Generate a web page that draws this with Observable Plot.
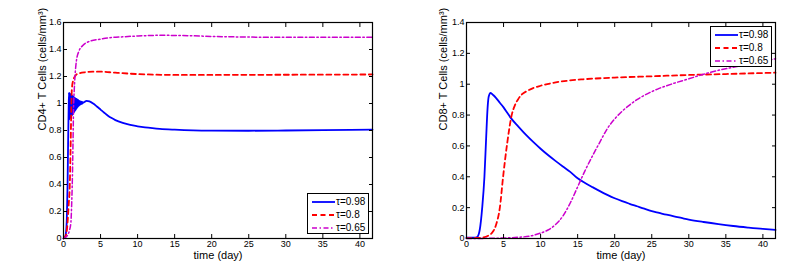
<!DOCTYPE html>
<html>
<head>
<meta charset="utf-8">
<script src="https://cdn.jsdelivr.net/npm/d3@7"></script>
<script src="https://cdn.jsdelivr.net/npm/@observablehq/plot@0.6"></script>
<style>
  body { margin: 0; background: #fff; font-family: Arial, "Liberation Sans", Helvetica, sans-serif; }
  #wrap { position: relative; width: 802px; height: 274px; overflow: hidden; }
  .panel { position: absolute; top: 0; }
  .legend { position: absolute; box-sizing: border-box; background: #fff; border: 1.2px solid #000; }
  .legend .row { position: absolute; left: 4px; height: 12px; display: flex; align-items: center; }
  .legend .row span { font-size: 10px; margin-left: 1px; color: #000; line-height: 12px; }
</style>
</head>
<body>
<div id="wrap"></div>
<script>
// ---------- data ----------
const xTicks = [0, 5, 10, 15, 20, 25, 30, 35, 40];
const cd4Ticks = [0, 0.2, 0.4, 0.6, 0.8, 1, 1.2, 1.4, 1.6];
const cd8Ticks = [0, 0.2, 0.4, 0.6, 0.8, 1, 1.2, 1.4];
const seriesNames = ["τ=0.98", "τ=0.8", "τ=0.65"];
const seriesColors = ["#0000ff", "#ff0000", "#cc00cc"];
const seriesDash = [null, "5,3.5", "5,2.5,1.5,2.5"];
const seriesWidth = [1.8, 1.8, 1.5];
const xTitle = "time (day)";
const cd4Title = "CD4+ T Cells (cells/mm³)";
const cd8Title = "CD8+ T Cells (cells/mm³)";

// CD4+ panel, [time, value]
const cd4_098 = [
  [0, 0], [0.2, 0.01], [0.35, 0.05], [0.45, 0.15], [0.55, 0.4], [0.62, 0.7], [0.7, 0.98],
  [0.75, 1.08], [0.78, 0.88], [0.81, 1.078], [0.84, 0.885], [0.87, 1.075], [0.9, 0.89],
  [0.93, 1.072], [0.96, 0.895], [0.99, 1.069], [1.02, 0.9], [1.05, 1.066], [1.08, 0.905],
  [1.11, 1.063], [1.14, 0.91], [1.17, 1.06], [1.2, 0.915], [1.23, 1.057], [1.26, 0.92],
  [1.29, 1.054], [1.32, 0.925], [1.35, 1.051], [1.38, 0.93], [1.41, 1.048], [1.44, 0.935],
  [1.47, 1.045], [1.5, 0.94], [1.53, 1.042], [1.56, 0.945], [1.59, 1.04], [1.62, 0.95],
  [1.65, 1.037], [1.68, 0.955], [1.71, 1.035], [1.74, 0.96], [1.77, 1.032], [1.8, 0.965],
  [1.83, 1.03], [1.86, 0.97], [1.89, 1.028], [1.92, 0.974], [1.95, 1.026], [1.98, 0.978],
  [2.01, 1.024], [2.04, 0.982], [2.07, 1.022], [2.1, 0.985], [2.14, 1.02], [2.18, 0.988],
  [2.22, 1.018], [2.26, 0.991], [2.3, 1.016], [2.35, 0.994], [2.4, 1.014], [2.45, 0.997],
  [2.5, 1.012], [2.56, 1.0], [2.62, 1.01], [2.7, 1.006], [2.85, 1.012], [3.1, 1.02],
  [3.5, 1.016], [4, 1.0], [4.5, 0.978], [5, 0.955], [5.5, 0.932], [6, 0.91], [6.5, 0.892],
  [7, 0.877], [8, 0.856], [9, 0.841], [10, 0.831], [11, 0.823], [12, 0.817], [13, 0.812],
  [15, 0.806], [17.5, 0.801], [20, 0.799], [25, 0.798], [30, 0.8], [35, 0.803], [41.7, 0.807]
];
const cd4_08 = [
  [0, 0], [0.3, 0.02], [0.45, 0.06], [0.55, 0.12], [0.7, 0.25], [0.85, 0.4], [0.95, 0.65],
  [1.05, 0.95], [1.12, 1.1], [1.3, 1.17], [1.6, 1.205], [2.0, 1.222], [3, 1.232],
  [4, 1.236], [5, 1.236], [7, 1.228], [10, 1.218], [15, 1.212], [20, 1.212], [30, 1.213],
  [41.7, 1.215]
];
const cd4_065 = [
  [0, 0], [0.3, 0.01], [0.6, 0.03], [0.8, 0.06], [1.0, 0.12], [1.1, 0.25], [1.2, 0.45],
  [1.28, 0.7], [1.35, 0.95], [1.45, 1.1], [1.55, 1.2], [1.75, 1.32], [2.1, 1.39],
  [2.6, 1.43], [3.5, 1.46], [5, 1.477], [6, 1.486], [8, 1.494], [10, 1.5], [13, 1.505],
  [17, 1.502], [20, 1.497], [25, 1.492], [30, 1.49], [35, 1.49], [41.7, 1.49]
];

// CD8+ panel, [time, value]
const cd8_098 = [
  [0, 0.005], [1, 0.005], [1.44, 0.01], [1.8, 0.06], [2.12, 0.2], [2.42, 0.4], [2.65, 0.65],
  [2.85, 0.85], [3.0, 0.92], [3.25, 0.943], [3.6, 0.93], [4, 0.91], [4.5, 0.88], [5, 0.85],
  [5.5, 0.815], [6, 0.78], [7, 0.725], [8, 0.673], [9, 0.626], [10, 0.582], [11, 0.541],
  [12, 0.503], [13, 0.467], [14, 0.432], [15, 0.39], [16, 0.36], [17, 0.333], [18, 0.307],
  [19, 0.283], [20, 0.261], [21, 0.242], [22, 0.225], [23, 0.209], [24, 0.193], [25, 0.178],
  [26, 0.166], [27, 0.154], [28, 0.143], [29, 0.133], [30, 0.123], [32, 0.107], [34, 0.093],
  [36, 0.081], [38, 0.071], [40, 0.062], [41.7, 0.056]
];
const cd8_08 = [
  [0, 0.002], [2, 0.005], [3, 0.02], [3.5, 0.04], [4, 0.09], [4.5, 0.2], [4.94, 0.4],
  [5.5, 0.62], [6.1, 0.8], [6.5, 0.86], [7, 0.905], [7.5, 0.935], [8.2, 0.957], [9, 0.975],
  [10, 0.99], [11.3, 1.005], [13.5, 1.022], [15.8, 1.032], [20, 1.043], [24.8, 1.051],
  [30, 1.06], [35, 1.066], [41.7, 1.075]
];
const cd8_065 = [
  [0, 0], [5, 0.003], [7, 0.008], [8.5, 0.015], [10, 0.035], [11, 0.055], [12, 0.09],
  [13, 0.145], [14, 0.23], [15, 0.335], [16, 0.44], [17, 0.535], [18, 0.625], [19, 0.712],
  [20, 0.775], [21, 0.825], [22, 0.865], [23, 0.9], [24, 0.928], [25, 0.952], [26, 0.973],
  [27, 0.99], [28, 1.006], [30, 1.035], [32, 1.065], [34, 1.09], [36, 1.11], [38, 1.13],
  [40, 1.15], [41.7, 1.165]
];

// ---------- drawing ----------
const font = 'Arial, "Liberation Sans", Helvetica, sans-serif';
const fmt = d => String(Math.round(d * 10) / 10);

function panel({width, marginLeft, marginRight, yDomain, yTicks, yTitle, yTitleDx, data}) {
  const lines = data.map((s, i) => Plot.line(s, {
    x: d => d[0], y: d => d[1],
    stroke: seriesColors[i], strokeWidth: seriesWidth[i],
    strokeDasharray: seriesDash[i], curve: "monotone-x"
  }));
  return Plot.plot({
    width, height: 274,
    marginLeft, marginRight, marginTop: 22, marginBottom: 36,
    style: {fontFamily: font, color: "#000", background: "#fff"},
    x: {domain: [0, 41.7]},
    y: {domain: yDomain},
    marks: [
      ...lines,
      Plot.frame({stroke: "#000", strokeWidth: 1.2}),
      Plot.axisX({anchor: "bottom", ticks: xTicks, tickSize: -4, tickPadding: 6, tickFormat: fmt, fontSize: 9, label: null}),
      Plot.axisX({anchor: "top", ticks: xTicks, tickSize: -4, tickPadding: 7, tickFormat: () => "", label: null}),
      Plot.axisY({anchor: "left", ticks: yTicks, tickSize: -4, tickPadding: 6, tickFormat: fmt, fontSize: 9, label: null}),
      Plot.axisY({anchor: "right", ticks: yTicks, tickSize: -4, tickPadding: 6, tickFormat: () => "", label: null}),
      Plot.text([yTitle], {text: d => d, frameAnchor: "left", dx: yTitleDx, rotate: -90, fontSize: 11, fill: "#000"}),
      Plot.text([xTitle], {text: d => d, frameAnchor: "bottom", dy: 20, fontSize: 11, fill: "#000"})
    ]
  });
}

function legend(left, top) {
  const div = document.createElement("div");
  div.className = "legend";
  Object.assign(div.style, {left: left + "px", top: top + "px", width: "62px", height: "41px"});
  seriesNames.forEach((name, i) => {
    const row = document.createElement("div");
    row.className = "row";
    row.style.top = (2 + 13 * i) + "px";
    const dash = seriesDash[i] ? `stroke-dasharray="${seriesDash[i]}"` : "";
    row.innerHTML = `<svg width="23" height="12"><line x1="0" y1="6" x2="23" y2="6" stroke="${seriesColors[i]}" stroke-width="${seriesWidth[i]}" ${dash}/></svg><span>${name}</span>`;
    div.appendChild(row);
  });
  return div;
}

const wrap = document.getElementById("wrap");

const left = document.createElement("div");
left.className = "panel"; left.style.left = "0px";
left.appendChild(panel({
  width: 400, marginLeft: 63, marginRight: 28, yDomain: [0, 1.6], yTicks: cd4Ticks,
  yTitle: cd4Title, yTitleDx: -21, data: [cd4_098, cd4_08, cd4_065]
}));
wrap.appendChild(left);

const right = document.createElement("div");
right.className = "panel"; right.style.left = "400px";
right.appendChild(panel({
  width: 402, marginLeft: 66, marginRight: 27, yDomain: [0, 1.4], yTicks: cd8Ticks,
  yTitle: cd8Title, yTitleDx: -23, data: [cd8_098, cd8_08, cd8_065]
}));
wrap.appendChild(right);

wrap.appendChild(legend(307, 193));
wrap.appendChild(legend(710, 26));
</script>
</body>
</html>
